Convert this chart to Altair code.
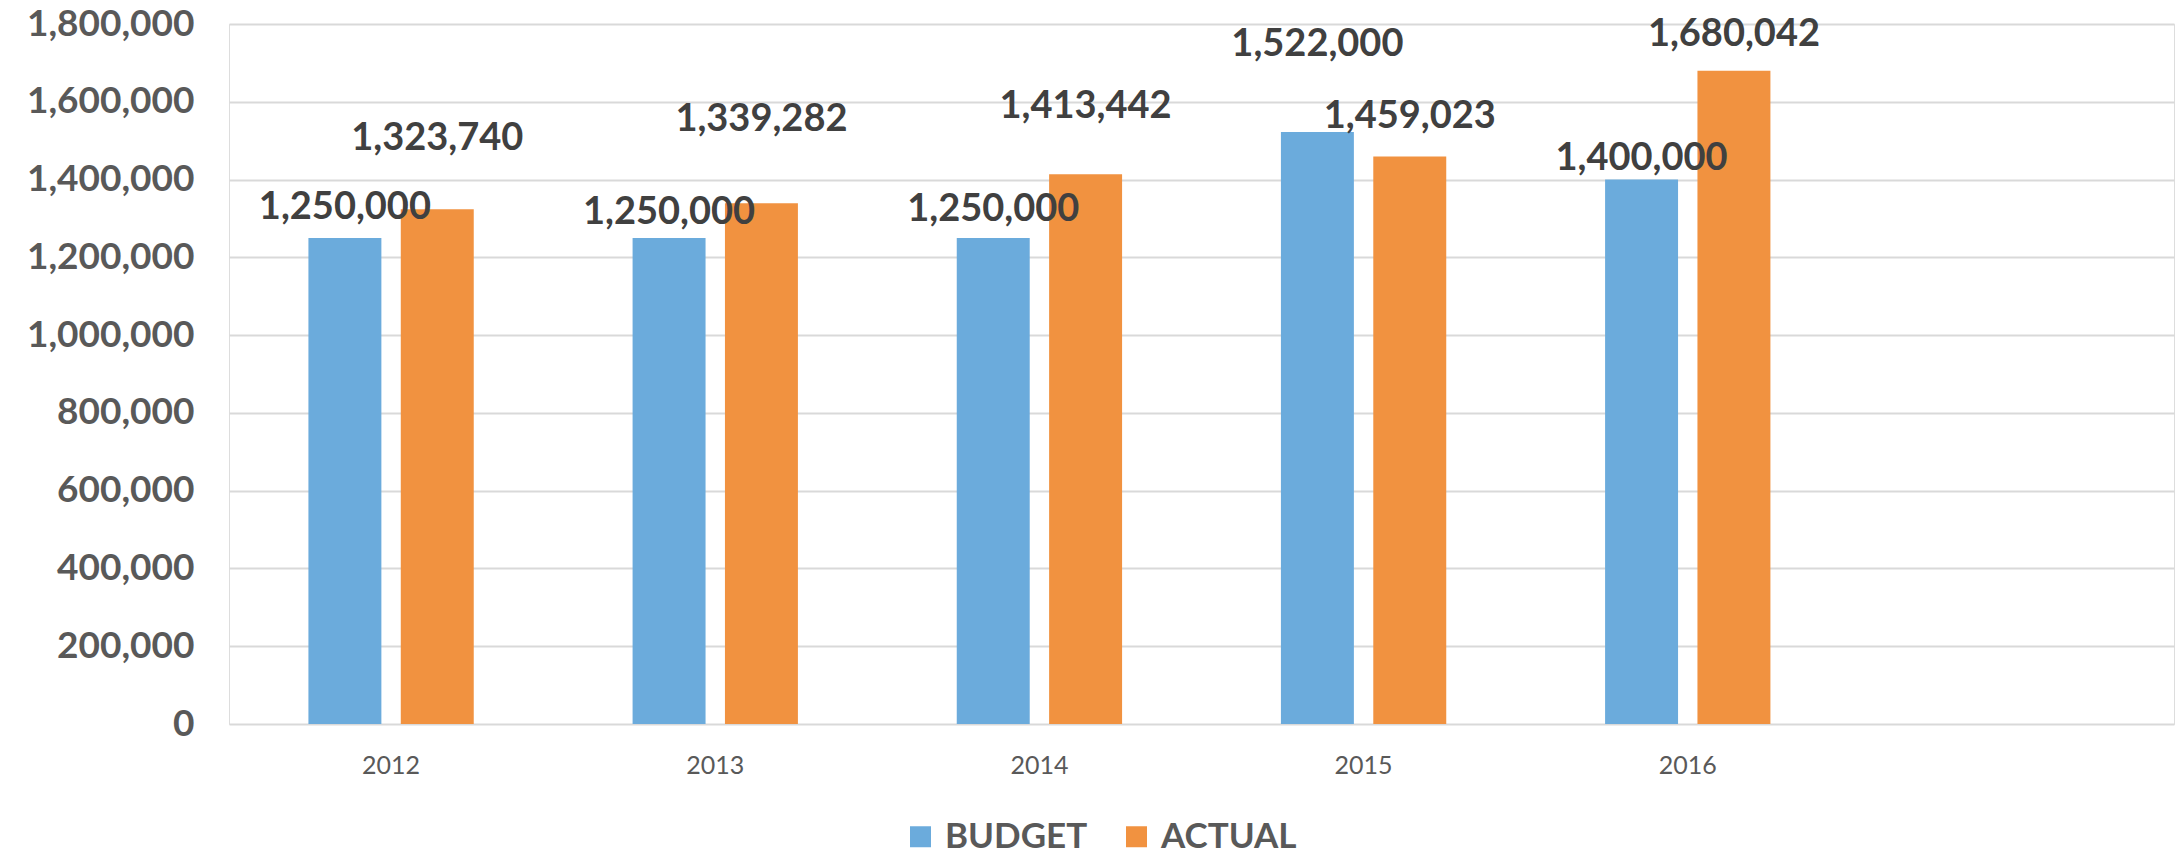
import altair as alt
import pandas as pd

YEARS = ["2012", "2013", "2014", "2015", "2016"]
SERIES = ["BUDGET", "ACTUAL"]
BUDGET = [1250000, 1250000, 1250000, 1522000, 1400000]
ACTUAL = [1323740, 1339282, 1413442, 1459023, 1680042]
# height above each bar at which its value label sits (data units)
LIFT_BUDGET = [78000, 64000, 71000, 224000, 53000]
LIFT_ACTUAL = [181000, 213000, 174000, 103000, 92000]
COLORS = ["#6BABDC", "#F19240"]

rows = []
for i, y in enumerate(YEARS):
    rows.append({"year": y, "series": "BUDGET", "value": BUDGET[i], "lab": BUDGET[i] + LIFT_BUDGET[i]})
    rows.append({"year": y, "series": "ACTUAL", "value": ACTUAL[i], "lab": ACTUAL[i] + LIFT_ACTUAL[i]})
df = pd.DataFrame(rows)

FONT = "Lato"
XSCALE = alt.Scale(domain=YEARS + [" "], paddingInner=0.49, paddingOuter=0.245)

x = alt.X("year:N", scale=XSCALE,
          axis=alt.Axis(title=None, labelAngle=0, labelFontSize=25, labelFont=FONT, labelColor="#595959",
                        labelPadding=29, ticks=False, domain=False, grid=False))
xo = alt.XOffset("series:N", scale=alt.Scale(domain=SERIES, paddingInner=0.21, paddingOuter=0))

bars = alt.Chart(df).mark_bar().encode(
    x=x,
    xOffset=xo,
    y=alt.Y("value:Q", scale=alt.Scale(domain=[0, 1800000], nice=False),
            axis=alt.Axis(title=None, values=list(range(0, 1800001, 200000)), format=",.0f",
                          labelFontSize=37, labelFont=FONT, labelFontWeight="bold", labelColor="#595959",
                          labelPadding=35, ticks=False, domain=False, gridColor="#D9D9D9", gridWidth=2)),
    color=alt.Color("series:N", scale=alt.Scale(domain=SERIES, range=COLORS),
                    legend=alt.Legend(title=None, orient="none", direction="horizontal",
                                      legendX=674, legendY=795, symbolType="square", symbolSize=441,
                                      symbolStrokeWidth=0, labelFontSize=35, labelFont=FONT,
                                      labelFontWeight="bold", labelColor="#595959", labelOffset=7,
                                      columnPadding=31, padding=0)),
)

labels = alt.Chart(df).mark_text(font=FONT, fontSize=38, fontWeight="bold", color="#404040",
                                 baseline="middle", align="center").encode(
    x=alt.X("year:N", scale=XSCALE),
    xOffset=xo,
    y=alt.Y("lab:Q"),
    text=alt.Text("value:Q", format=",.0f"),
)

chart = alt.layer(bars, labels).properties(
    width=1945, height=700,
    autosize=alt.AutoSizeParams(type="none"),
    padding={"left": 229, "top": 24, "right": 4, "bottom": 134},
).configure_view(stroke=None).configure(background="white")

chart.save("out.html", embed_options={"renderer": "svg", "actions": False})
